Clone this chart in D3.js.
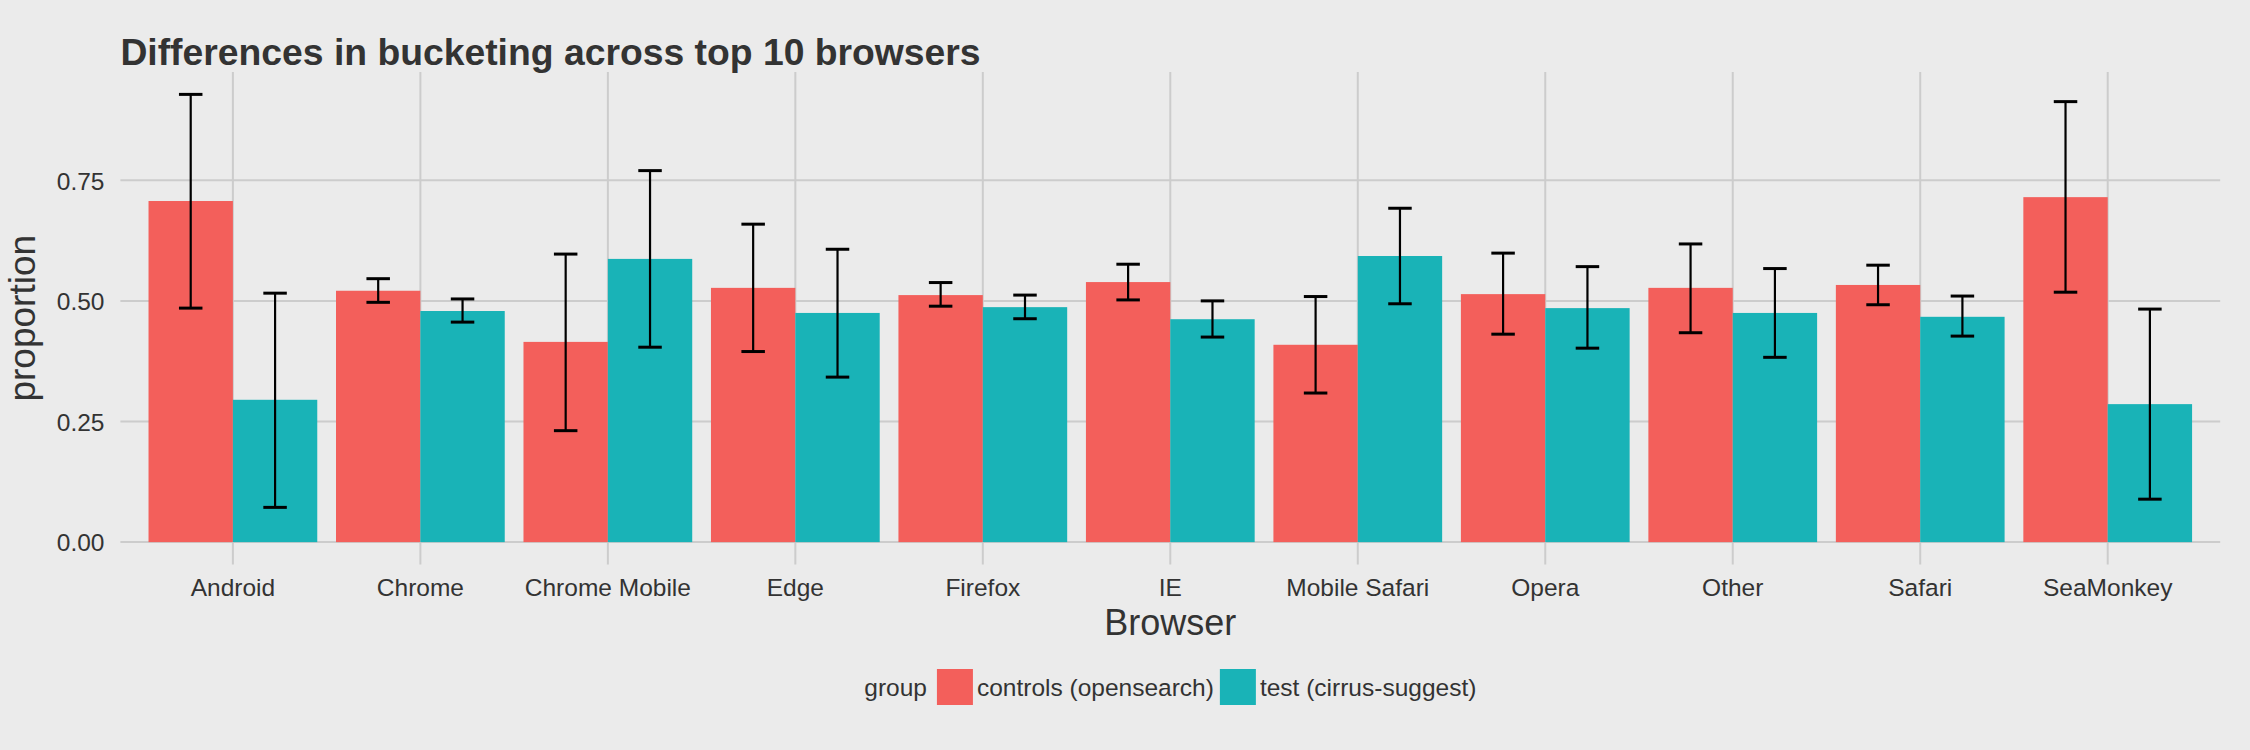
<!DOCTYPE html>
<html>
<head>
<meta charset="utf-8">
<script src="https://cdn.jsdelivr.net/npm/d3@7"></script>
<style>
  html, body { margin: 0; padding: 0; background: #EBEBEB; }
  svg { display: block; }
  text { font-family: "Liberation Sans", Arial, Helvetica, sans-serif; }
</style>
</head>
<body>
<svg id="chart" width="2250" height="750"></svg>
<script>
// ---- data ----
const browsers = ["Android", "Chrome", "Chrome Mobile", "Edge", "Firefox", "IE",
                  "Mobile Safari", "Opera", "Other", "Safari", "SeaMonkey"];
const groups = ["controls (opensearch)", "test (cirrus-suggest)"];
const controlsValue = [0.707, 0.521, 0.415, 0.527, 0.512, 0.539, 0.409, 0.514, 0.527, 0.533, 0.715];
const controlsLower = [0.485, 0.497, 0.231, 0.395, 0.489, 0.502, 0.309, 0.431, 0.434, 0.492, 0.518];
const controlsUpper = [0.928, 0.546, 0.597, 0.659, 0.538, 0.576, 0.509, 0.599, 0.618, 0.574, 0.913];
const testValue     = [0.295, 0.479, 0.587, 0.475, 0.487, 0.462, 0.593, 0.485, 0.475, 0.467, 0.286];
const testLower     = [0.072, 0.456, 0.404, 0.342, 0.463, 0.425, 0.494, 0.402, 0.383, 0.427, 0.089];
const testUpper     = [0.516, 0.504, 0.770, 0.607, 0.512, 0.500, 0.692, 0.571, 0.567, 0.510, 0.483];
const yTicks = [0, 0.25, 0.5, 0.75];
const colors = ["#F35F5B", "#19B3B7"];

const title = "Differences in bucketing across top 10 browsers";
const xTitle = "Browser";
const yTitle = "proportion";
const legendTitle = "group";

// ---- build rows ----
const rows = [];
browsers.forEach((b, i) => {
  rows.push({browser: b, group: groups[0], value: controlsValue[i], lo: controlsLower[i], hi: controlsUpper[i]});
  rows.push({browser: b, group: groups[1], value: testValue[i], lo: testLower[i], hi: testUpper[i]});
});

// ---- layout ----
const svg = d3.select("#chart");
const panel = {left: 120.4, right: 2220.2, top: 72, bottom: 564.5};
const textColor = "#333333";
const gridColor = "#CCCCCC";

const x = d3.scaleBand().domain(browsers).range([panel.left, panel.right])
  .paddingInner(0.1).paddingOuter(0.15);
const xInner = d3.scaleBand().domain(groups).range([0, x.bandwidth()]).padding(0);
const dataMax = d3.max(rows, d => Math.max(d.hi, d.value));
const dataMin = Math.min(0, d3.min(rows, d => d.lo));
const span = dataMax - dataMin;
const y = d3.scaleLinear().domain([dataMin - 0.05 * span, dataMax + 0.05 * span])
  .range([panel.bottom, panel.top]);
const color = d3.scaleOrdinal().domain(groups).range(colors);

// background
svg.append("rect").attr("x", 0).attr("y", 0).attr("width", 2250).attr("height", 750).attr("fill", "#EBEBEB");

// grid lines
const grid = svg.append("g");
grid.selectAll("line.h").data(yTicks).join("line")
  .attr("x1", panel.left).attr("x2", panel.right)
  .attr("y1", d => y(d)).attr("y2", d => y(d))
  .attr("stroke", gridColor).attr("stroke-width", 2);
grid.selectAll("line.v").data(browsers).join("line")
  .attr("x1", d => x(d) + x.bandwidth() / 2).attr("x2", d => x(d) + x.bandwidth() / 2)
  .attr("y1", panel.top).attr("y2", panel.bottom)
  .attr("stroke", gridColor).attr("stroke-width", 2);

// bars
svg.append("g").selectAll("rect").data(rows).join("rect")
  .attr("x", d => x(d.browser) + xInner(d.group))
  .attr("width", xInner.bandwidth())
  .attr("y", d => y(d.value))
  .attr("height", d => y(0) - y(d.value))
  .attr("fill", d => color(d.group));

// error bars
const whisker = 23.5;
const eb = svg.append("g").attr("stroke", "#000").attr("stroke-width", 2.2).attr("fill", "none");
rows.forEach(d => {
  const cx = x(d.browser) + xInner(d.group) + xInner.bandwidth() / 2;
  eb.append("line").attr("x1", cx).attr("x2", cx).attr("y1", y(d.lo)).attr("y2", y(d.hi));
  eb.append("line").attr("x1", cx - whisker / 2).attr("x2", cx + whisker / 2).attr("y1", y(d.lo)).attr("y2", y(d.lo)).attr("stroke-width", 3);
  eb.append("line").attr("x1", cx - whisker / 2).attr("x2", cx + whisker / 2).attr("y1", y(d.hi)).attr("y2", y(d.hi)).attr("stroke-width", 3);
});

// axes (text only, ggplot-like)
const yAxis = d3.axisLeft(y).tickValues(yTicks).tickFormat(d3.format(".2f")).tickSize(0).tickPadding(0);
const gy = svg.append("g").attr("transform", `translate(${104.5},0)`).call(yAxis);
gy.select(".domain").remove();
gy.selectAll("text").attr("font-size", 24.5).attr("fill", textColor).attr("dy", "0.36em")
  .attr("font-family", "'Liberation Sans', Arial, sans-serif");

const xAxis = d3.axisBottom(x).tickSize(0).tickPadding(0);
const gx = svg.append("g").attr("transform", `translate(0,${596})`).call(xAxis);
gx.select(".domain").remove();
gx.selectAll("text").attr("font-size", 24.5).attr("fill", textColor).attr("dy", 0).attr("y", 0)
  .attr("font-family", "'Liberation Sans', Arial, sans-serif");

// titles
svg.append("text").attr("x", panel.left).attr("y", 65)
  .attr("font-size", 37.3).attr("font-weight", "bold").attr("fill", textColor).text(title);
svg.append("text").attr("x", (panel.left + panel.right) / 2).attr("y", 635)
  .attr("text-anchor", "middle").attr("font-size", 36).attr("fill", textColor).text(xTitle);
svg.append("text").attr("transform", `translate(35,${(panel.top + panel.bottom) / 2}) rotate(-90)`)
  .attr("text-anchor", "middle").attr("font-size", 37).attr("fill", textColor).text(yTitle);

// legend
const legend = svg.append("g");
const keySize = 36, legendCy = 687, fs = 24.5;
const gTitle = legend.append("text").attr("y", legendCy).attr("dy", "0.36em")
  .attr("font-size", fs).attr("fill", textColor).text(legendTitle);
const items = groups.map(g => {
  const r = legend.append("rect").attr("width", keySize).attr("height", keySize)
    .attr("y", legendCy - keySize / 2).attr("fill", color(g));
  const t = legend.append("text").attr("y", legendCy).attr("dy", "0.36em")
    .attr("font-size", fs).attr("fill", textColor).text(g);
  return {r, t};
});
let total = gTitle.node().getComputedTextLength() + 10;
items.forEach((it, i) => { total += keySize + 4 + it.t.node().getComputedTextLength() + (i < items.length - 1 ? 6 : 0); });
let cur = (panel.left + panel.right) / 2 - total / 2;
gTitle.attr("x", cur); cur += gTitle.node().getComputedTextLength() + 10;
items.forEach((it, i) => {
  it.r.attr("x", cur); cur += keySize + 4;
  it.t.attr("x", cur); cur += it.t.node().getComputedTextLength() + 6;
});
</script>
</body>
</html>
